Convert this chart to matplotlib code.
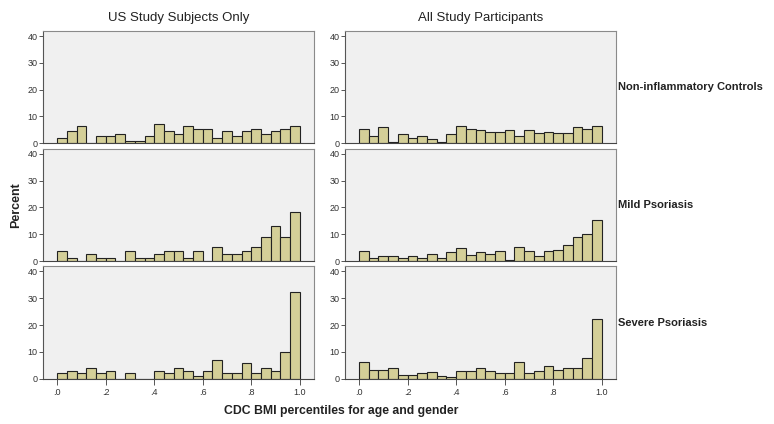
import matplotlib.pyplot as plt
import numpy as np

# 25 bins of width .04 over CDC BMI percentile 0..1
bin_edges = np.linspace(0, 1, 26)
col_titles = ["US Study Subjects Only", "All Study Participants"]
row_titles = ["Non-inflammatory Controls", "Mild Psoriasis", "Severe Psoriasis"]

# percent per bin
us_controls = [1.8, 4.5, 6.4, 0, 2.7, 2.7, 3.6, 0.9, 0.9, 2.7, 7.3, 4.5, 3.6,
               6.4, 5.5, 5.5, 1.8, 4.5, 2.7, 4.5, 5.5, 3.6, 4.5, 5.5, 6.4]
us_mild = [3.9, 1.3, 0, 2.6, 1.3, 1.3, 0, 3.9, 1.3, 1.3, 2.6, 3.9, 3.9,
           1.3, 3.9, 0, 5.2, 2.6, 2.6, 3.9, 5.2, 9.1, 13.0, 9.1, 18.2]
us_severe = [2, 3, 2, 4, 2, 3, 0, 2, 0, 0, 3, 2, 4, 3, 1, 3, 7, 2, 2, 6,
             2, 4, 3, 10, 32.2]
all_controls = [5.4, 2.8, 5.9, 0.4, 3.4, 2.0, 2.9, 1.5, 0.4, 3.4, 6.4, 5.5, 5.0,
                4.4, 4.4, 5.0, 2.9, 5.0, 3.9, 4.4, 3.9, 3.9, 5.9, 5.5, 6.4]
all_mild = [3.8, 1.2, 1.8, 1.8, 1.2, 1.8, 1.2, 2.7, 1.2, 3.2, 4.7, 2.3, 3.2,
            2.7, 3.7, 0.4, 5.3, 3.7, 1.8, 3.7, 4.2, 5.9, 8.8, 9.9, 15.4]
all_severe = [6.4, 3.4, 3.4, 3.9, 1.5, 1.5, 2.0, 2.5, 1.0, 0.8, 2.9, 2.9, 3.9,
              2.9, 2.0, 2.0, 6.4, 2.0, 2.9, 4.9, 3.4, 3.9, 3.9, 7.8, 22.4]

data = [[us_controls, all_controls],
        [us_mild, all_mild],
        [us_severe, all_severe]]

bar_color = "#D4CF98"
bg_color = "#F0F0F0"
font = ["Liberation Sans", "DejaVu Sans"]

fig = plt.figure(figsize=(7.74, 4.24), dpi=100)

lefts = [0.0556, 0.4457]
bottoms = [0.662, 0.3844, 0.1068]
w, h = 0.350, 0.265

widths = np.diff(bin_edges)
for r in range(3):
    for c in range(2):
        ax = fig.add_axes([lefts[c], bottoms[r], w, h])
        ax.set_facecolor(bg_color)
        ax.bar(bin_edges[:-1], data[r][c], width=widths, align="edge",
               color=bar_color, edgecolor="#222222", linewidth=0.8)
        ax.set_xlim(-0.058, 1.058)
        ax.set_ylim(0, 41.9)
        ax.set_yticks([0, 10, 20, 30, 40])
        ax.set_yticklabels(["0", "10", "20", "30", "40"], fontsize=6.5,
                           family=font, color="#333333")
        ax.tick_params(axis="y", length=3, width=0.7, pad=1, color="#555555")
        for s in ax.spines.values():
            s.set_color("#8a8a8a")
            s.set_linewidth(0.8)
        ax.spines["bottom"].set_color("#444444")
        ax.spines["left"].set_color("#555555")
        if r == 2:
            ax.set_xticks([0, 0.2, 0.4, 0.6, 0.8, 1.0])
            ax.set_xticklabels([".0", ".2", ".4", ".6", ".8", "1.0"],
                               fontsize=6.5, family=font, color="#333333")
            ax.tick_params(axis="x", length=4, width=0.7, pad=3, color="#555555")
        else:
            ax.set_xticks([])
        if r == 0:
            ax.set_title(col_titles[c], fontsize=9.5, family=font,
                         pad=7.5, color="#222222")
        if c == 1:
            ax.text(1.008, 0.5, row_titles[r], transform=ax.transAxes,
                    fontsize=8, fontweight="bold", family=font,
                    va="center", ha="left", color="#222222")

fig.text(0.021, 0.517, "Percent", rotation=90, fontsize=9, fontweight="bold",
         family=font, ha="center", va="center", color="#222222")
fig.text(0.441, 0.031, "CDC BMI percentiles for age and gender", fontsize=8.8,
         fontweight="bold", family=font, ha="center", va="center", color="#222222")

fig.savefig("out.png", dpi=100)
